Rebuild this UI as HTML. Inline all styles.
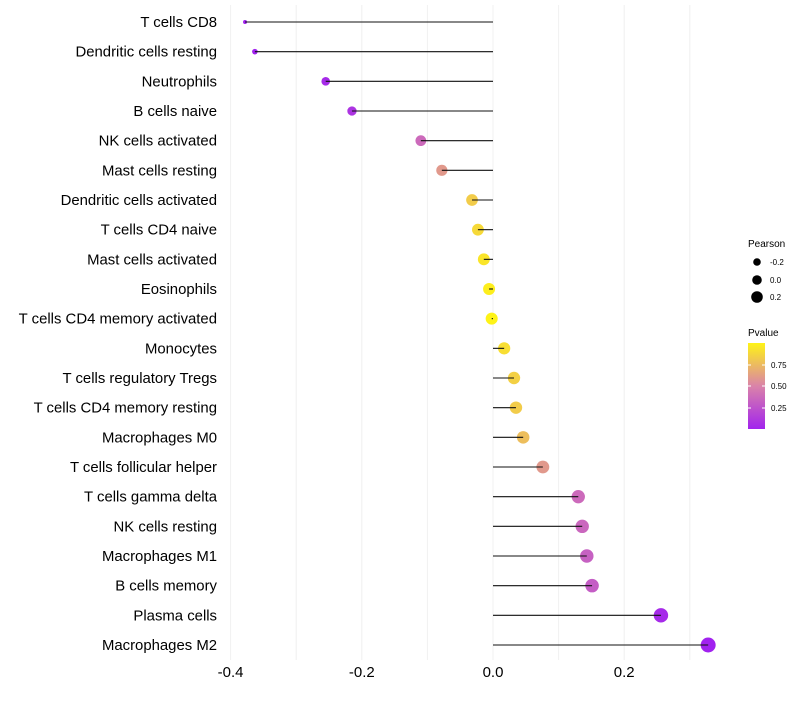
<!DOCTYPE html>
<html><head><meta charset="utf-8"><style>
body{margin:0;background:#fff;font-family:"Liberation Sans",sans-serif}
</style></head><body>
<svg id="chart" width="800" height="700" xmlns="http://www.w3.org/2000/svg">
<g id="grid"></g><g id="dots"></g><g id="marks"></g><g id="labels"></g><g id="legend"></g>
</svg>
<script>
const categories=["T cells CD8","Dendritic cells resting","Neutrophils","B cells naive","NK cells activated","Mast cells resting","Dendritic cells activated","T cells CD4 naive","Mast cells activated","Eosinophils","T cells CD4 memory activated","Monocytes","T cells regulatory  Tregs ","T cells CD4 memory resting","Macrophages M0","T cells follicular helper","T cells gamma delta","NK cells resting","Macrophages M1","B cells memory","Plasma cells","Macrophages M2"];
const pearson=[-0.378,-0.363,-0.255,-0.215,-0.110,-0.078,-0.032,-0.023,-0.014,-0.006,-0.002,0.017,0.032,0.035,0.046,0.076,0.130,0.136,0.143,0.151,0.256,0.328];
const pvalue=[0.005,0.01,0.05,0.1,0.38,0.6,0.82,0.88,0.93,0.97,0.99,0.9,0.84,0.82,0.76,0.6,0.38,0.36,0.33,0.31,0.05,0.01];
const xTicks=[-0.4,-0.2,0.0,0.2];
const xTickLabels=["-0.4","-0.2","0.0","0.2"];
const gridVals=[-0.4,-0.3,-0.2,-0.1,0,0.1,0.2,0.3];
const NS="http://www.w3.org/2000/svg";
const x=v=>493+v*656;
const y=i=>22+i*(623/21);
const r=v=>2+5.5*Math.sqrt(Math.max(0,(v+0.378)/0.706));
function lerp(a,b,t){return a.map((c,i)=>Math.round(c+(b[i]-c)*t));}
function col(p){const s=[[160,32,240],[218,130,170],[255,245,20]];
 const c=p<0.5?lerp(s[0],s[1],p/0.5):lerp(s[1],s[2],(p-0.5)/0.5);return `rgb(${c})`;}
function mk(tag,attrs,parent,text){const e=document.createElementNS(NS,tag);for(const k in attrs)e.setAttribute(k,attrs[k]);if(text!=null)e.textContent=text;document.getElementById(parent).appendChild(e);return e;}
gridVals.forEach(v=>{const e=mk("line",{x1:x(v),x2:x(v),y1:5,y2:660,stroke:"#f0f0f0","stroke-width":1},"grid");

});
xTicks.forEach((v,i)=>{const e=mk("text",{x:x(v),y:677,"text-anchor":"middle","font-size":15,fill:"#000"},"labels",xTickLabels[i]);

});
categories.forEach((c,i)=>{
 const t=mk("text",{x:217,y:y(i)+5,"text-anchor":"end","font-size":14.9,fill:"#000","xml:space":"preserve"},"labels",c);
 
 
 const d=mk("circle",{cx:x(pearson[i]),cy:y(i),r:r(pearson[i]),fill:col(pvalue[i])},"dots");
 
 
 const l=mk("line",{x1:x(0),x2:x(pearson[i]),y1:y(i),y2:y(i),stroke:"#111","stroke-width":1.1},"marks");
 
 
});
mk("text",{x:748,y:247,"font-size":10},"legend","Pearson");
[[-0.2,262,3.8],[0,280,4.8],[0.2,297,5.8]].forEach(([v,yy,rr])=>{
 const c=mk("circle",{cx:757,cy:yy,r:rr,fill:"#000"},"legend");
 
 
 mk("text",{x:770,y:yy+3,"font-size":8},"legend",v===0?"0.0":String(v));
});
mk("text",{x:748,y:336,"font-size":10},"legend","Pvalue");
const defs=mk("defs",{},"legend");
const g=document.createElementNS(NS,"linearGradient");g.setAttribute("id","pg");g.setAttribute("x1","0");g.setAttribute("y1","1");g.setAttribute("x2","0");g.setAttribute("y2","0");defs.appendChild(g);
[0,0.25,0.5,0.75,1].forEach(o=>{const s=document.createElementNS(NS,"stop");s.setAttribute("offset",o);s.setAttribute("stop-color",col(0.02+o*0.97));g.appendChild(s);});
const bar=mk("rect",{x:748,y:343,width:17,height:86,fill:"url(#pg)"},"legend");


[[0.75,365],[0.5,386],[0.25,408]].forEach(([v,yy])=>{
 mk("line",{x1:748,x2:751,y1:yy,y2:yy,stroke:"#fff"},"legend");
 mk("line",{x1:762,x2:765,y1:yy,y2:yy,stroke:"#fff"},"legend");
 mk("text",{x:771,y:yy+3,"font-size":8},"legend",v.toFixed(2));
});
</script>
</body></html>
